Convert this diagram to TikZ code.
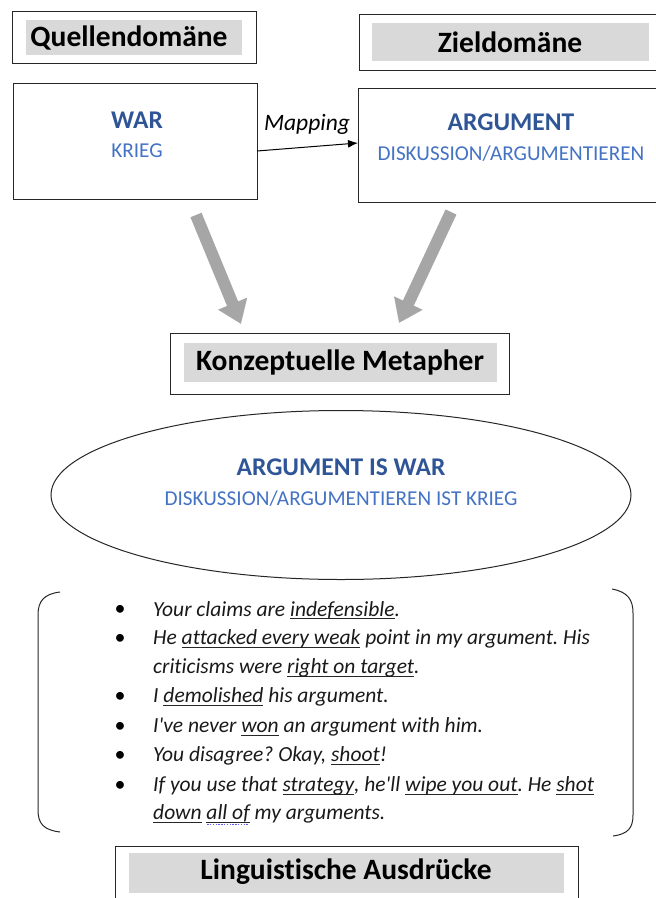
\documentclass[tikz,border=0pt]{standalone}
\usepackage{fontspec}
\setmainfont{Carlito}[Ligatures={NoCommon}]
\usetikzlibrary{arrows.meta,shapes.geometric}
\definecolor{headblue}{HTML}{2F5597}
\definecolor{subblue}{HTML}{4472C4}
\definecolor{labelgray}{HTML}{D9D9D9}
\definecolor{flowgray}{HTML}{A6A6A6}
\definecolor{framegray}{HTML}{262626}
\definecolor{spellblue}{HTML}{5B5BF0}
\frenchspacing
% underline at a fixed depth, as in a word processor
\newcommand{\ulw}[1]{\setbox0\hbox{#1}\rlap{\color{framegray}\rule[-2.8pt]{\wd0}{0.9pt}}\box0\relax}
% dotted proofing mark below a word
\newcommand{\prooflined}[1]{\setbox2\hbox{#1}\rlap{\raisebox{-5.4pt}{\color{spellblue}\hbox to \wd2{\leaders\hbox to 2.8pt{\hss\rule{1.4pt}{1pt}\hss}\hfill}}}\box2\relax}
\tikzset{
  frame/.style={draw=framegray, line width=1pt},
  label fill/.style={fill=labelgray, draw=none},
  heading/.style={font=\fontsize{29.5}{34}\selectfont\bfseries, text=black},
  concept/.style={font=\fontsize{25.5}{30}\selectfont\bfseries, text=headblue},
  gloss/.style={font=\fontsize{21.2}{25}\selectfont, text=subblue},
  example/.style={font=\fontsize{21.5}{25}\selectfont\itshape, anchor=west, inner sep=0pt, text=black!90},
  bulletmark/.style={font=\fontsize{22}{25}\selectfont, anchor=center, inner sep=0pt},
  flow/.style={draw=flowgray, line width=12pt, -{Triangle[width=30pt,length=22pt]}},
}
\begin{document}
\begin{tikzpicture}[x=1pt,y=-1pt]
\useasboundingbox (0,0) rectangle (656,898);

% source domain
\draw[frame] (12,11) rectangle (256,63);
\fill[label fill] (26,20) rectangle (242,55);
\node[heading] (quelle) at (129,38) {Quellendomäne};

% target domain
\draw[frame] (359,14) rectangle (660,70);
\fill[label fill] (372,23) rectangle (649,61);
\node[heading] (ziel) at (510,42) {Zieldomäne};

% WAR box
\node[frame, minimum width=244pt, minimum height=116pt, inner sep=0pt] (war) at (135,141) {};
\node[concept] (warT) at (137,120) {WAR};
\node[gloss] (warG) at (137,151) {KRIEG};

% ARGUMENT box
\node[frame, minimum width=302pt, minimum height=114pt, inner sep=0pt] (arg) at (509,145) {};
\node[concept] (argT) at (511,122) {ARGUMENT};
\node[gloss] (argG) at (511,154) {DISKUSSION/ARGUMENTIEREN};

% mapping arrow
\coordinate (mapS) at (257,151);
\coordinate (mapE) at (358,143);
\draw[black, line width=1pt, -{Latex[length=10pt,width=8pt]}] (mapS) -- (mapE);
\node[font=\fontsize{23.5}{27}\selectfont\itshape] (maplabel) at (307,124) {Mapping};

% conceptual metaphor
\draw[frame] (170,333) rectangle (509,394);
\fill[label fill] (184,343) rectangle (497,382);
\node[heading] (konz) at (340,362) {Konzeptuelle Metapher};

% grey flow arrows
\coordinate (fl1) at (196,215);
\coordinate (fl1e) at (241,324);
\coordinate (fl2) at (451,212);
\coordinate (fl2e) at (399,323);
\draw[flow] (fl1) -- (fl1e);
\draw[flow] (fl2) -- (fl2e);

% metaphor ellipse
\node[ellipse, draw=framegray, line width=1pt, minimum width=580pt, minimum height=169pt, inner sep=0pt] (ell) at (341,495) {};
\node[concept] (ellT) at (341,467) {ARGUMENT IS WAR};
\node[gloss] (ellG) at (341,499) {DISKUSSION/ARGUMENTIEREN IST KRIEG};

% bracket around the examples
\draw[framegray, line width=1pt] (60,592) .. controls (44,594) and (38,601) .. (38,615) -- (38,810) .. controls (38,824) and (44,830) .. (60,832);
\draw[framegray, line width=1pt] (612,589) .. controls (628,592) and (633,600) .. (633,613) -- (633,815) .. controls (633,828) and (628,834) .. (613,836);

% examples
\node[bulletmark] (b1) at (120,610) {•};
\node[bulletmark] (b2) at (120,639) {•};
\node[bulletmark] (b3) at (120,697) {•};
\node[bulletmark] (b4) at (120,727) {•};
\node[bulletmark] (b5) at (120,756) {•};
\node[bulletmark] (b6) at (120,786) {•};
\node[example] (e1) at (153,610) {Your claims are \ulw{indefensible}.};
\node[example] (e2) at (153,639) {He \ulw{attacked every weak} point in my argument. His};
\node[example] (e2b) at (153,668) {criticisms were \ulw{right on target}.};
\node[example] (e3) at (153,697) {I \ulw{demolished} his argument.};
\node[example] (e4) at (153,727) {I\textquotesingle ve never \ulw{won} an argument with him.};
\node[example] (e5) at (153,756) {You disagree? Okay, \ulw{shoot}!};
\node[example] (e6) at (153,786) {If you use that \ulw{strategy}, he\textquotesingle ll \ulw{wipe you out}. He \ulw{shot}};
\node[example] (e6b) at (153,815) {\ulw{down} \prooflined{\ulw{all of}} my arguments.};

% linguistic expressions
\draw[frame] (115,846) rectangle (578,902);
\fill[label fill] (129,853) rectangle (564,893);
\node[heading] (ling) at (346,872) {Linguistische Ausdrücke};
\end{tikzpicture}
\end{document}
